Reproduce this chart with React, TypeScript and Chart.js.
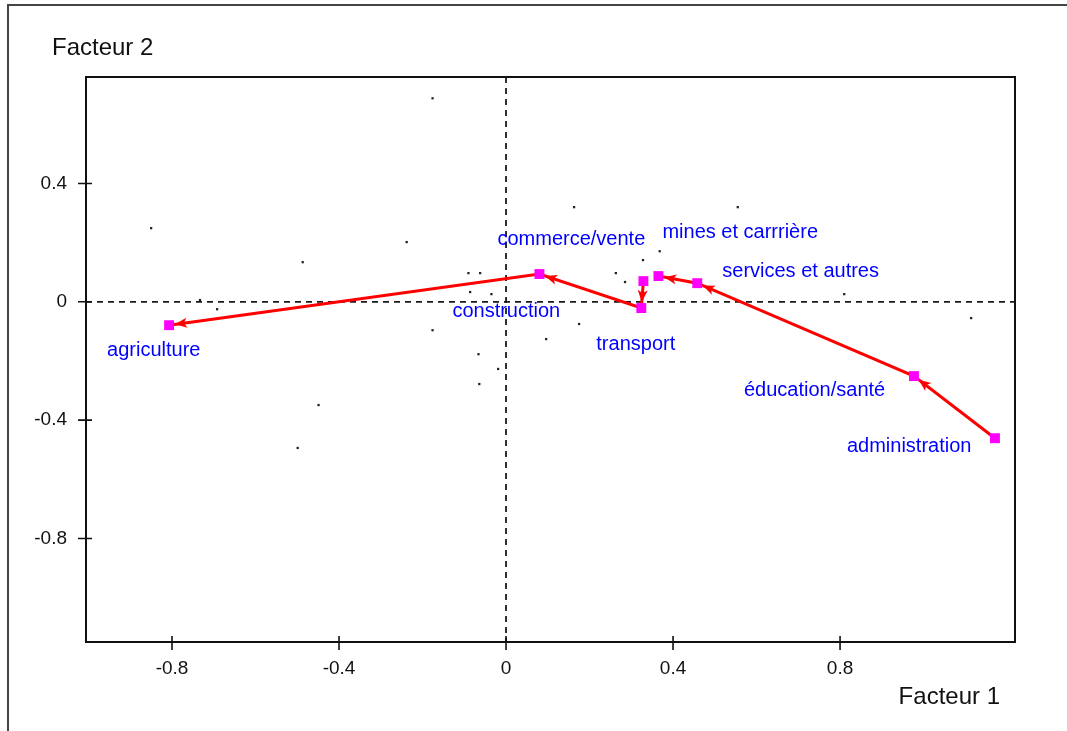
import React, { useEffect, useRef } from "react";
import { Chart, registerables } from "chart.js";

Chart.register(...registerables);

// ---- data ----
const sectors = [
  "agriculture",
  "commerce/vente",
  "construction",
  "transport",
  "mines et carrrière",
  "services et autres",
  "éducation/santé",
  "administration",
];
const factor1 = [-0.807, 0.08, 0.329, 0.324, 0.365, 0.458, 0.977, 1.171];
const factor2 = [-0.079, 0.094, 0.07, -0.021, 0.087, 0.063, -0.251, -0.461];

// trajectories: each arrow points to the next sector
const pathA = ["administration", "éducation/santé", "services et autres", "mines et carrrière"];
const pathB = ["construction", "transport", "commerce/vente", "agriculture"];

// supplementary (small black) points
const dotsX = [
  -0.176, -0.85, -0.238, -0.487, 0.163, 0.555, 0.368, 0.328, 0.263, 0.285, -0.09, -0.062, -0.086,
  -0.035, 0.81, -0.733, -0.692, -0.176, 0.175, 0.096, -0.066, -0.019, -0.064, -0.449, -0.499,
  1.114, -0.449,
];
const dotsY = [
  0.688, 0.249, 0.202, 0.134, 0.32, 0.32, 0.171, 0.141, 0.097, 0.067, 0.097, 0.097, 0.033, 0.026,
  0.026, 0.006, -0.025, -0.096, -0.075, -0.126, -0.177, -0.227, -0.278, -0.349, -0.494, -0.055,
  -0.008,
];

const xTicks = [-0.8, -0.4, 0, 0.4, 0.8];
const yTicks = [-0.8, -0.4, 0, 0.4];
const xTitle = "Facteur 1";
const yTitle = "Facteur 2";

// ---- layout / style (not data) ----
const labelOffsets: Record<string, [number, number]> = {
  agriculture: [-62, 31],
  "commerce/vente": [-42, -29],
  construction: [-191, 36],
  transport: [-45, 42],
  "mines et carrrière": [4, -38],
  "services et autres": [25, -6],
  "éducation/santé": [-170, 20],
  administration: [-148, 14],
};
const FONT = '"Liberation Sans", Arial, sans-serif';

const decorPlugin = {
  id: "decor",
  beforeDatasetsDraw(chart: any) {
    const { ctx, chartArea: a, scales } = chart;
    const xs = scales.x;
    const ys = scales.y;
    ctx.save();
    ctx.strokeStyle = "#1a1a1a";
    ctx.lineWidth = 1.8;
    ctx.setLineDash([6, 5]);
    const x0 = xs.getPixelForValue(0);
    const y0 = ys.getPixelForValue(0);
    ctx.beginPath();
    ctx.moveTo(x0, a.top);
    ctx.lineTo(x0, a.bottom);
    ctx.moveTo(a.left, y0);
    ctx.lineTo(a.right, y0);
    ctx.stroke();
    ctx.restore();
  },
  afterDatasetsDraw(chart: any) {
    const { ctx, chartArea: a, scales } = chart;
    const xs = scales.x;
    const ys = scales.y;
    ctx.save();

    // arrowheads
    ctx.fillStyle = "#ff0000";
    const drawArrows = (path: string[]) => {
      for (let k = 1; k < path.length; k++) {
        const i0 = sectors.indexOf(path[k - 1]);
        const i1 = sectors.indexOf(path[k]);
        const px = xs.getPixelForValue(factor1[i0]);
        const py = ys.getPixelForValue(factor2[i0]);
        const qx = xs.getPixelForValue(factor1[i1]);
        const qy = ys.getPixelForValue(factor2[i1]);
        const len = Math.hypot(qx - px, qy - py) || 1;
        const dx = (qx - px) / len;
        const dy = (qy - py) / len;
        const tx = qx - dx * 6;
        const ty = qy - dy * 6;
        const bx = tx - dx * 12;
        const by = ty - dy * 12;
        const nx = -dy * 5;
        const ny = dx * 5;
        ctx.beginPath();
        ctx.moveTo(tx, ty);
        ctx.lineTo(bx + nx, by + ny);
        ctx.lineTo(tx - dx * 9, ty - dy * 9);
        ctx.lineTo(bx - nx, by - ny);
        ctx.closePath();
        ctx.fill();
      }
    };
    drawArrows(pathA);
    drawArrows(pathB);

    // labels
    ctx.font = `20px ${FONT}`;
    ctx.fillStyle = "#0000ff";
    ctx.textAlign = "left";
    ctx.textBaseline = "alphabetic";
    sectors.forEach((name, i) => {
      const off = labelOffsets[name] || [0, 0];
      ctx.fillText(
        name,
        xs.getPixelForValue(factor1[i]) + off[0],
        ys.getPixelForValue(factor2[i]) + off[1]
      );
    });

    // frame
    ctx.strokeStyle = "#111";
    ctx.lineWidth = 2;
    ctx.setLineDash([]);
    ctx.strokeRect(a.left, a.top, a.right - a.left, a.bottom - a.top);

    // tick marks crossing the axes
    ctx.lineWidth = 1.6;
    ctx.beginPath();
    xTicks.forEach((v) => {
      const p = xs.getPixelForValue(v);
      ctx.moveTo(p, a.bottom - 6);
      ctx.lineTo(p, a.bottom + 8);
    });
    yTicks.forEach((v) => {
      const p = ys.getPixelForValue(v);
      ctx.moveTo(a.left - 8, p);
      ctx.lineTo(a.left + 6, p);
    });
    ctx.stroke();

    // axis titles
    ctx.font = `24px ${FONT}`;
    ctx.fillStyle = "#111";
    ctx.textAlign = "left";
    ctx.fillText(yTitle, 52, 55);
    ctx.textAlign = "right";
    ctx.fillText(xTitle, 1000, 704);
    ctx.restore();
  },
};

export default function App() {
  const ref = useRef<HTMLCanvasElement | null>(null);

  useEffect(() => {
    if (!ref.current) return;
    const pt = (name: string) => {
      const i = sectors.indexOf(name);
      return { x: factor1[i], y: factor2[i] };
    };
    const pathStyle = {
      showLine: true,
      borderColor: "#ff0000",
      borderWidth: 3,
      pointStyle: "rect",
      pointRadius: 7,
      pointHoverRadius: 7,
      pointBackgroundColor: "#ff00ff",
      pointBorderWidth: 0,
      backgroundColor: "#ff00ff",
      order: 1,
    };
    const chart = new Chart(ref.current, {
      type: "scatter",
      data: {
        datasets: [
          {
            label: "points supplémentaires",
            data: dotsX.map((x, i) => ({ x, y: dotsY[i] })),
            pointStyle: "rect",
            pointRadius: 1.6,
            pointBackgroundColor: "#222",
            pointBorderWidth: 0,
            showLine: false,
            order: 3,
          } as any,
          { label: "trajectoire A", data: pathA.map(pt), ...pathStyle } as any,
          { label: "trajectoire B", data: pathB.map(pt), ...pathStyle } as any,
        ],
      },
      plugins: [decorPlugin],
      options: {
        responsive: false,
        animation: false,
        devicePixelRatio: 1,
        layout: { padding: { left: 0, top: 77, right: 52, bottom: 0 } },
        plugins: { legend: { display: false }, tooltip: { enabled: false } },
        scales: {
          x: {
            type: "linear",
            min: -1.006,
            max: 1.219,
            grid: { display: false },
            border: { display: false },
            afterBuildTicks: (s: any) => {
              s.ticks = xTicks.map((v) => ({ value: v }));
            },
            afterFit: (s: any) => {
              s.height = 89;
            },
            ticks: {
              padding: 7,
              color: "#111",
              font: { family: FONT, size: 19 },
              callback: (v: any) => String(v),
            },
          },
          y: {
            type: "linear",
            min: -1.15,
            max: 0.76,
            grid: { display: false },
            border: { display: false },
            afterBuildTicks: (s: any) => {
              s.ticks = yTicks.map((v) => ({ value: v }));
            },
            afterFit: (s: any) => {
              s.width = 86;
            },
            ticks: {
              padding: 11,
              color: "#111",
              font: { family: FONT, size: 19 },
              callback: (v: any) => String(v),
            },
          },
        },
      } as any,
    });
    return () => chart.destroy();
  }, []);

  return (
    <div
      style={{
        position: "absolute",
        left: 0,
        top: 0,
        width: 1067,
        height: 731,
        overflow: "hidden",
        background: "#fff",
      }}
    >
      <div
        style={{
          position: "absolute",
          left: 7,
          top: 4,
          width: 1067,
          height: 731,
          borderTop: "2px solid #444",
          borderLeft: "2px solid #444",
        }}
      />
      <canvas
        ref={ref}
        width={1067}
        height={731}
        style={{ position: "absolute", left: 0, top: 0, width: 1067, height: 731 }}
      />
    </div>
  );
}
